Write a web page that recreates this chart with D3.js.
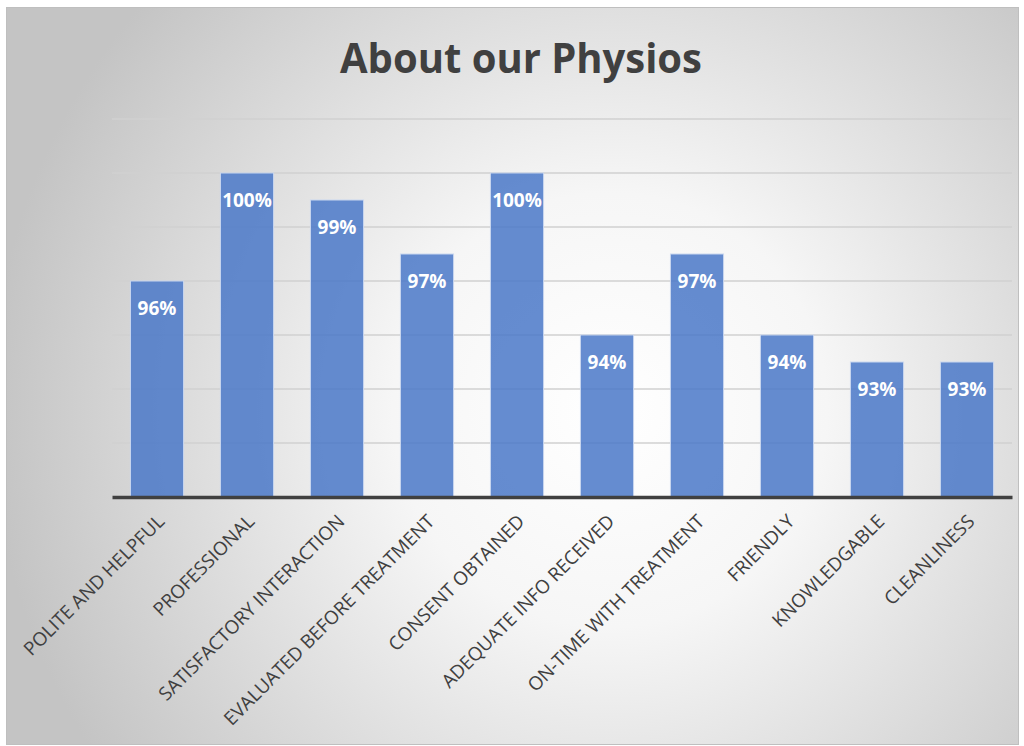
<!DOCTYPE html>
<html><head><meta charset="utf-8">
<script src="https://cdn.jsdelivr.net/npm/d3@7"></script>
<style>body{margin:0;background:#fff;}svg{display:block;}</style>
</head><body>
<script>
const categories = ["POLITE AND HELPFUL","PROFESSIONAL","SATISFACTORY INTERACTION","EVALUATED BEFORE TREATMENT","CONSENT OBTAINED","ADEQUATE INFO RECEIVED","ON-TIME WITH TREATMENT","FRIENDLY","KNOWLEDGABLE","CLEANLINESS"];
const values = [96,100,99,97,100,94,97,94,93,93];
const yTicks = [90,92,94,96,98,100,102];
const title = "About our Physios";

const W=1024,H=746;
const svg=d3.select("body").append("svg").attr("width",W).attr("height",H);
const defs=svg.append("defs");
const rg=defs.append("radialGradient").attr("id","bg").attr("gradientUnits","userSpaceOnUse")
  .attr("cx",610).attr("cy",410).attr("r",620);
rg.append("stop").attr("offset","0").attr("stop-color","#ffffff");
rg.append("stop").attr("offset","0.35").attr("stop-color","#f6f6f6");
rg.append("stop").attr("offset","1").attr("stop-color","#c4c4c4");
svg.append("rect").attr("x",6.5).attr("y",7.5).attr("width",1012).attr("height",737)
  .attr("fill","url(#bg)").attr("stroke","#bfbfbf").attr("stroke-width",1);

const x=d3.scaleBand().domain(categories).range([112,1012]).paddingInner(0.41).paddingOuter(0.205);
const y=d3.scaleLinear().domain([88,102]).range([497,119]);

svg.append("g").selectAll("line").data(yTicks).join("line")
  .attr("x1",112).attr("x2",1012).attr("y1",d=>y(d)).attr("y2",d=>y(d))
  .attr("stroke","#d0d0d0").attr("stroke-width",1.3);

svg.append("text").attr("x",521).attr("y",73).attr("text-anchor","middle")
  .attr("font-family","'Open Sans', sans-serif").attr("font-weight","bold").attr("font-size",42)
  .attr("fill","#404040").attr("textLength",362).attr("lengthAdjust","spacingAndGlyphs").text(title);

const g=svg.append("g");
g.selectAll("rect").data(values).join("rect")
  .attr("x",(d,i)=>x(categories[i])).attr("width",x.bandwidth())
  .attr("y",d=>y(d)).attr("height",d=>y(88)-y(d))
  .attr("fill","#4a78c8").attr("fill-opacity",0.85)
  .attr("stroke","#c9d7ef").attr("stroke-width",1);

g.selectAll("text").data(values).join("text")
  .attr("x",(d,i)=>x(categories[i])+x.bandwidth()/2).attr("y",d=>y(d)+34)
  .attr("text-anchor","middle").attr("font-family","'Open Sans', sans-serif")
  .attr("font-weight","bold").attr("font-size",19).attr("fill","#ffffff")
  .text(d=>d+"%");

const xa=svg.append("g").attr("transform","translate(0,497)")
  .call(d3.axisBottom(x).tickSize(0).tickPadding(0));
xa.attr("font-size",null).attr("font-family",null);
xa.select(".domain").attr("stroke","#404040").attr("stroke-width",3.5);
xa.selectAll("text").style("font-family","'Open Sans', sans-serif").style("font-size","18.8px")
  .attr("fill","#404040").attr("text-anchor","end")
  .attr("transform","translate(4,21) rotate(-45)").attr("dy","0.35em");
</script>
</body></html>
